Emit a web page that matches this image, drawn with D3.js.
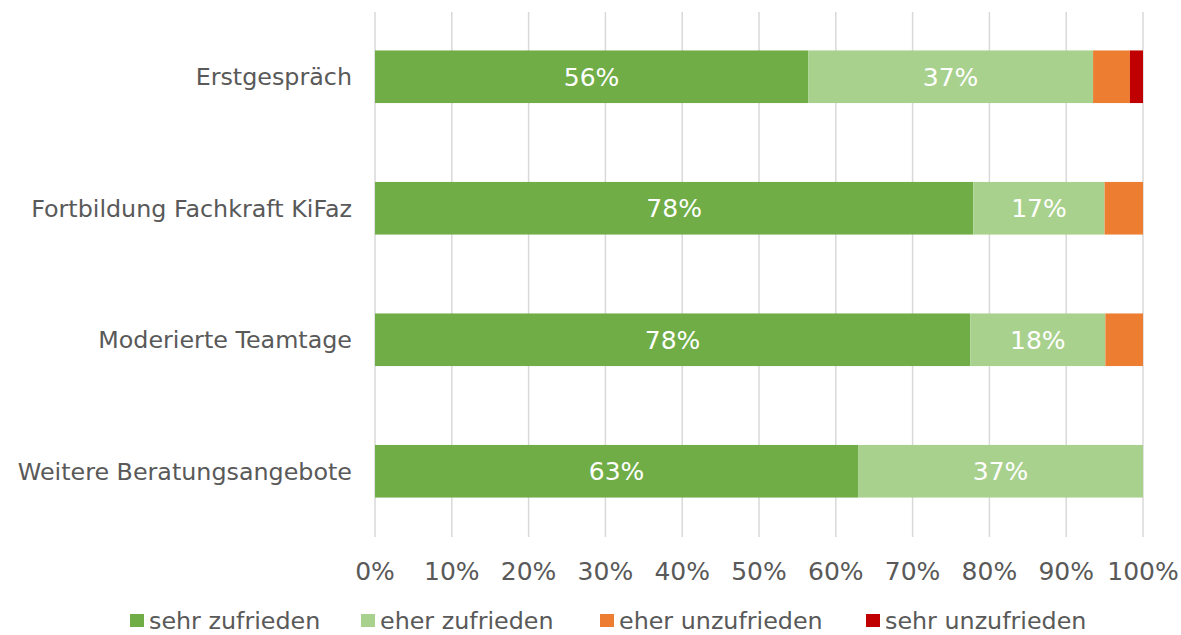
<!DOCTYPE html>
<html>
<head>
<meta charset="utf-8">
<script src="https://cdn.jsdelivr.net/npm/d3@7"></script>
<style>
  body { margin: 0; background: #fff; }
  text { font-family: Verdana, "DejaVu Sans", sans-serif; }
</style>
</head>
<body>
<div id="chart"></div>
<script>
const categories = ["Erstgespräch", "Fortbildung Fachkraft KiFaz", "Moderierte Teamtage", "Weitere Beratungsangebote"];
const seriesNames = ["sehr zufrieden", "eher zufrieden", "eher unzufrieden", "sehr unzufrieden"];
const sehrZufrieden = [0.564, 0.779, 0.775, 0.629];
const eherZufrieden = [0.371, 0.171, 0.176, 0.371];
const eherUnzufrieden = [0.048, 0.050, 0.049, 0];
const sehrUnzufrieden = [0.017, 0, 0, 0];
const colors = ["#70ad47", "#a9d18e", "#ed7d31", "#c00000"];
const tickValues = [0, 0.1, 0.2, 0.3, 0.4, 0.5, 0.6, 0.7, 0.8, 0.9, 1.0];

const width = 1181, height = 635;
const margin = { top: 11, right: 38, bottom: 98, left: 375 };
const textSize = 23.8, numSize = 25;

const svg = d3.select("#chart")
    .append("svg")
    .attr("width", width)
    .attr("height", height);

const x = d3.scaleLinear()
    .domain([0, 1])
    .range([margin.left, width - margin.right]);

const y = d3.scaleBand()
    .domain(categories)
    .range([margin.top, height - margin.bottom])
    .paddingInner(0.6)
    .paddingOuter(0.3);

// gridlines
svg.append("g")
    .selectAll("line")
    .data(tickValues)
    .join("line")
    .attr("x1", (d) => x(d))
    .attr("x2", (d) => x(d))
    .attr("y1", 12)
    .attr("y2", 537)
    .attr("stroke", "#d9d9d9")
    .attr("stroke-width", 1.5);

// stacked data
const rows = categories.map((c, i) => ({
    cat: c,
    s0: sehrZufrieden[i],
    s1: eherZufrieden[i],
    s2: eherUnzufrieden[i],
    s3: sehrUnzufrieden[i],
}));
const stack = d3.stack().keys(["s0", "s1", "s2", "s3"]);
const layers = stack(rows);

const groups = svg.append("g")
    .selectAll("g")
    .data(layers)
    .join("g")
    .attr("fill", (d, i) => colors[i]);

groups.selectAll("rect")
    .data((d) => d)
    .join("rect")
    .attr("x", (d) => x(d[0]))
    .attr("y", (d) => y(d.data.cat))
    .attr("width", (d) => x(d[1]) - x(d[0]))
    .attr("height", y.bandwidth());

// value labels on first two series
layers.slice(0, 2).forEach((layer) => {
    svg.append("g")
        .selectAll("text")
        .data(layer)
        .join("text")
        .attr("x", (d) => (x(d[0]) + x(d[1])) / 2)
        .attr("y", (d) => y(d.data.cat) + y.bandwidth() / 2)
        .attr("dy", "0.35em")
        .attr("text-anchor", "middle")
        .attr("fill", "#fff")
        .attr("font-size", numSize)
        .text((d) => Math.round((d[1] - d[0]) * 100) + "%");
});

// category labels
svg.append("g")
    .selectAll("text")
    .data(categories)
    .join("text")
    .attr("x", margin.left - 23)
    .attr("y", (d) => y(d) + y.bandwidth() / 2)
    .attr("dy", "0.35em")
    .attr("text-anchor", "end")
    .attr("fill", "#595959")
    .attr("font-size", textSize)
    .text((d) => d);

// x axis labels
svg.append("g")
    .selectAll("text")
    .data(tickValues)
    .join("text")
    .attr("x", (d) => x(d))
    .attr("y", 580)
    .attr("text-anchor", "middle")
    .attr("fill", "#595959")
    .attr("font-size", numSize)
    .text((d) => Math.round(d * 100) + "%");

// legend
const legendX = [130, 361, 600, 866];
const legend = svg.append("g")
    .selectAll("g")
    .data(seriesNames)
    .join("g")
    .attr("transform", (d, i) => `translate(${legendX[i]},614)`);
legend.append("rect")
    .attr("width", 14)
    .attr("height", 13)
    .attr("fill", (d, i) => colors[i]);
legend.append("text")
    .attr("x", 19)
    .attr("y", 15)
    .attr("fill", "#595959")
    .attr("font-size", textSize)
    .text((d) => d);
</script>
</body>
</html>
